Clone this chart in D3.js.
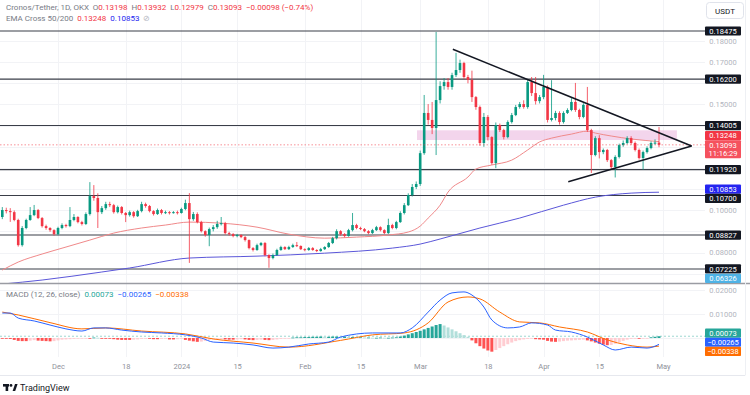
<!DOCTYPE html>
<html>
<head>
<meta charset="utf-8">
<script src="https://cdn.jsdelivr.net/npm/d3@7"></script>
<style>
  body { margin: 0; background: #fff; }
  svg { display: block; }
  text { font-family: Roboto, "Noto Sans", sans-serif; }
</style>
</head>
<body>
<div id="chart"></div>
<script>
// CRO/USDT daily candles, Nov 17 2023 -> Apr 30 2024 (one value per day)
var firstOpen = 0.0968;
var closes = [
  0.1001, 0.0996, 0.0991, 0.0954, 0.0835, 0.0916, 0.0954, 0.0977, 0.1001, 0.0963,
  0.0925, 0.0916, 0.0906, 0.0887, 0.0916, 0.0930, 0.0925, 0.0954, 0.0968, 0.0944,
  0.0935, 0.0982, 0.1067, 0.1058, 0.0991, 0.1010, 0.1029, 0.1024, 0.0991, 0.1015,
  0.0987, 0.0977, 0.0991, 0.0972, 0.0996, 0.1029, 0.1020, 0.0996, 0.0982, 0.1001,
  0.0987, 0.0991, 0.0987, 0.0991, 0.0987, 0.1006, 0.1034, 0.0958, 0.0982, 0.0944,
  0.0901, 0.0883, 0.0911, 0.0920, 0.0935, 0.0939, 0.0892, 0.0887, 0.0878, 0.0883,
  0.0873, 0.0859, 0.0821, 0.0812, 0.0835, 0.0845, 0.0788, 0.0774, 0.0788, 0.0812,
  0.0826, 0.0816, 0.0826, 0.0835, 0.0831, 0.0816, 0.0812, 0.0821, 0.0812, 0.0807,
  0.0816, 0.0826, 0.0845, 0.0868, 0.0901, 0.0887, 0.0878, 0.0906, 0.0930, 0.0916,
  0.0911, 0.0901, 0.0892, 0.0906, 0.0920, 0.0906, 0.0892, 0.0930, 0.0916, 0.0944,
  0.0987, 0.1024, 0.1072, 0.1110, 0.1124, 0.1270, 0.1460, 0.1427, 0.1389, 0.1521,
  0.1587, 0.1606, 0.1583, 0.1639, 0.1663, 0.1696, 0.1630, 0.1616, 0.1535, 0.1488,
  0.1318, 0.1441, 0.1346, 0.1223, 0.1403, 0.1379, 0.1346, 0.1417, 0.1450, 0.1488,
  0.1502, 0.1488, 0.1606, 0.1554, 0.1516, 0.1535, 0.1583, 0.1427, 0.1436, 0.1460,
  0.1417, 0.1460, 0.1474, 0.1512, 0.1474, 0.1441, 0.1498, 0.1379, 0.1261, 0.1341,
  0.1275, 0.1285, 0.1237, 0.1204, 0.1252, 0.1308, 0.1318, 0.1341, 0.1318, 0.1285,
  0.1247, 0.1275, 0.1294, 0.1318, 0.13198, 0.13093
];
var highs = [
  0.1015, 0.1012, 0.1010, 0.0999, 0.0960, 0.0925, 0.0960, 0.1015, 0.1025, 0.1006,
  0.0968, 0.0932, 0.0920, 0.0910, 0.0922, 0.0938, 0.0936, 0.1015, 0.0982, 0.0972,
  0.0950, 0.0990, 0.1133, 0.1119, 0.1080, 0.1020, 0.1040, 0.1040, 0.1030, 0.1022,
  0.1020, 0.0992, 0.0998, 0.0996, 0.1002, 0.1040, 0.1036, 0.1025, 0.1000, 0.1008,
  0.1006, 0.0998, 0.0996, 0.0996, 0.0998, 0.1012, 0.1050, 0.1081, 0.0992, 0.0990,
  0.0950, 0.0905, 0.0918, 0.0930, 0.0950, 0.0968, 0.0945, 0.0898, 0.0892, 0.0888,
  0.0886, 0.0878, 0.0862, 0.0826, 0.0842, 0.0850, 0.0850, 0.0792, 0.0795, 0.0818,
  0.0832, 0.0830, 0.0832, 0.0842, 0.0850, 0.0834, 0.0820, 0.0826, 0.0826, 0.0816,
  0.0822, 0.0830, 0.0850, 0.0874, 0.0910, 0.0906, 0.0892, 0.0912, 0.0987, 0.0936,
  0.0922, 0.0916, 0.0906, 0.0912, 0.0926, 0.0924, 0.0910, 0.0960, 0.0936, 0.0950,
  0.0995, 0.1034, 0.1080, 0.1124, 0.1136, 0.1282, 0.1545, 0.1502, 0.1512, 0.1843,
  0.1610, 0.1625, 0.1625, 0.1650, 0.1744, 0.1712, 0.1702, 0.1640, 0.1660, 0.1540,
  0.1495, 0.1460, 0.1450, 0.1350, 0.1415, 0.1410, 0.1385, 0.1425, 0.1460, 0.1498,
  0.1512, 0.1520, 0.1620, 0.1630, 0.1630, 0.1545, 0.1640, 0.1590, 0.1615, 0.1470,
  0.1468, 0.1468, 0.1482, 0.1530, 0.1602, 0.1480, 0.1506, 0.1583, 0.1385, 0.1350,
  0.1355, 0.1292, 0.1290, 0.1242, 0.1260, 0.1315, 0.1330, 0.1350, 0.1350, 0.1325,
  0.1292, 0.1282, 0.1302, 0.1326, 0.1335, 0.13932
];
var lows = [
  0.0958, 0.0985, 0.0945, 0.0948, 0.0828, 0.0828, 0.0910, 0.0950, 0.0972, 0.0958,
  0.0918, 0.0908, 0.0898, 0.0880, 0.0882, 0.0910, 0.0918, 0.0920, 0.0948, 0.0938,
  0.0928, 0.0930, 0.0975, 0.1045, 0.0916, 0.0982, 0.1002, 0.1015, 0.0984, 0.0985,
  0.0980, 0.0944, 0.0970, 0.0965, 0.0968, 0.0990, 0.1012, 0.0990, 0.0975, 0.0978,
  0.0980, 0.0982, 0.0980, 0.0984, 0.0980, 0.0984, 0.1000, 0.0751, 0.0950, 0.0938,
  0.0895, 0.0875, 0.0830, 0.0900, 0.0912, 0.0928, 0.0885, 0.0880, 0.0872, 0.0872,
  0.0868, 0.0852, 0.0815, 0.0805, 0.0808, 0.0830, 0.0782, 0.0728, 0.0768, 0.0784,
  0.0808, 0.0812, 0.0812, 0.0822, 0.0826, 0.0812, 0.0806, 0.0808, 0.0808, 0.0802,
  0.0804, 0.0812, 0.0822, 0.0840, 0.0862, 0.0880, 0.0872, 0.0875, 0.0900, 0.0910,
  0.0906, 0.0896, 0.0886, 0.0888, 0.0902, 0.0900, 0.0887, 0.0888, 0.0910, 0.0910,
  0.0940, 0.0980, 0.1020, 0.1065, 0.1100, 0.1115, 0.1262, 0.1405, 0.1360, 0.1261,
  0.1505, 0.1570, 0.1570, 0.1570, 0.1630, 0.1650, 0.1620, 0.1600, 0.1512, 0.1475,
  0.1305, 0.1300, 0.1330, 0.1215, 0.1199, 0.1370, 0.1335, 0.1340, 0.1410, 0.1445,
  0.1480, 0.1480, 0.1480, 0.1540, 0.1500, 0.1505, 0.1525, 0.1415, 0.1420, 0.1425,
  0.1405, 0.1410, 0.1455, 0.1468, 0.1465, 0.1430, 0.1435, 0.1370, 0.1176, 0.1255,
  0.1245, 0.1265, 0.1228, 0.1190, 0.1155, 0.1245, 0.1300, 0.1312, 0.1310, 0.1278,
  0.1240, 0.1192, 0.1268, 0.1288, 0.1310, 0.12979
];

// EMA cross 50/200, read at selected days (day index, value)
var ema50Days = [0, 4, 10, 16, 22, 28, 35, 41, 47, 55, 64, 72, 81, 89, 97, 102, 105, 107, 110, 112, 117, 119, 123, 128, 132, 135, 138, 143, 147, 149, 153, 158, 165];
var ema50Vals = [0.0717, 0.0755, 0.0793, 0.0826, 0.0859, 0.0892, 0.0916, 0.0930, 0.0944, 0.0939, 0.0920, 0.0887, 0.0868, 0.0873, 0.0883, 0.0897, 0.0925, 0.0963, 0.1024, 0.1086, 0.1157, 0.1195, 0.1214, 0.1237, 0.1285, 0.1323, 0.1341, 0.1360, 0.1374, 0.1365, 0.1351, 0.1337, 0.13248];
var ema200Days = [0, 10, 25, 32, 47, 64, 81, 98, 105, 110, 120, 130, 141, 149, 158, 165];
var ema200Vals = [0.0651, 0.0670, 0.0708, 0.0727, 0.0774, 0.0783, 0.0797, 0.0821, 0.0840, 0.0864, 0.0916, 0.0963, 0.1024, 0.1062, 0.1081, 0.10853];

// MACD (12, 26, close)
var macdDays = [0, 2, 4, 8, 12, 16, 20, 23, 26, 30, 35, 40, 46, 50, 53, 58, 63, 68, 72, 77, 82, 85, 93, 100, 103, 107, 110, 113, 116, 118, 121, 123, 127, 130, 133, 137, 139, 143, 147, 151, 154, 158, 162, 165];
var macdVals = [0.0104, 0.0104, 0.0083, 0.0071, 0.0054, 0.0038, 0.0029, 0.0042, 0.0042, 0.0033, 0.0025, 0.0021, 0.0013, 0, -0.0017, -0.0021, -0.0029, -0.0042, -0.0038, -0.0025, -0.0017, 0.0004, 0.0021, 0.0021, 0.0042, 0.0108, 0.0158, 0.0188, 0.0192, 0.0179, 0.0129, 0.0075, 0.0042, 0.0046, 0.0063, 0.0054, 0.0033, 0.0025, 0.0004, -0.0029, -0.0050, -0.0038, -0.0042, -0.00265];
var signalDays = [0, 4, 12, 20, 26, 35, 46, 53, 63, 72, 85, 93, 101, 107, 112, 117, 120, 125, 130, 135, 140, 147, 152, 157, 162, 165];
var signalVals = [0.0108, 0.0096, 0.0064, 0.0038, 0.0042, 0.0029, 0.0017, -0.0004, -0.0021, -0.0038, -0.0010, 0.0013, 0.0021, 0.0063, 0.0150, 0.0171, 0.0163, 0.0108, 0.0067, 0.0063, 0.0046, 0.0025, -0.0008, -0.0029, -0.0038, -0.00338];
var histVals = [
  -0.0002, -0.0003, -0.0004, -0.0008, -0.0012, -0.0013, -0.0013, -0.0011, -0.0009,
  -0.0011, -0.0012, -0.0013, -0.0014, -0.0013, -0.0010,
  -0.0007, -0.0006, -0.0005, -0.0004, -0.0003, -0.0002, -0.0001, -0.0001,
  0.0002, 0.0001, -0.0001, -0.0002, -0.0002,
  -0.0005, -0.0007, -0.0008, -0.0008, -0.0008, -0.0007, -0.0006,
  -0.0004, -0.0003, -0.0003, -0.0005, -0.0005, -0.0004, -0.0003,
  -0.0006, -0.0006, -0.0005, -0.0003,
  -0.0008, -0.0011, -0.0014, -0.0016, -0.0015, -0.0012,
  -0.0008, -0.0006, -0.0005, -0.0004, -0.0006, -0.0007, -0.0007, -0.0006,
  -0.0005, -0.0006, -0.0008, -0.0009, -0.0008, -0.0007, -0.0008, -0.0009, -0.0008,
  -0.0006, -0.0004, -0.0002, -0.0001,
  0.0002, 0.0003, 0.0003, 0.0004, 0.0004, 0.0005, 0.0005, 0.0006, 0.0005, 0.0005, 0.0006, 0.0006, 0.0005,
  0.0005, 0.0004, 0.0004, 0.0003, 0.0003,
  0.0002, 0.0002, 0.0001, 0.0001, 0.0002, 0.0001, 0.0001, 0.0002, 0.0003,
  0.0006, 0.0010, 0.0015, 0.0020, 0.0025, 0.0030,
  0.0036, 0.0042, 0.0048, 0.0054, 0.0058,
  0.0052, 0.0044, 0.0036, 0.0028, 0.0020, 0.0012, 0.0005,
  -0.0010, -0.0022, -0.0034, -0.0044, -0.0052, -0.0057,
  -0.0050, -0.0042, -0.0034, -0.0026, -0.0019, -0.0013, -0.0009, -0.0006, -0.0004,
  -0.0003, -0.0005, -0.0006, -0.0007,
  -0.0012, -0.0015, -0.0016, -0.0015, -0.0013,
  -0.0011, -0.0010, -0.0009, -0.0008, -0.0007,
  -0.0010, -0.0014, -0.0019, -0.0024, -0.0028, -0.0030, -0.0029,
  -0.0024, -0.0018, -0.0012, -0.0007, -0.0004,
  -0.0003, -0.0003, -0.0002, -0.0001,
  0.0003, 0.0005, 0.00073
];

// horizontal levels drawn on the chart
var levels = [0.18475, 0.16200, 0.14005, 0.11920, 0.10700, 0.08827, 0.07225];
var offLevel = 0.06326;
var zoneDays = [104.2, 169.5], zonePrices = [0.1332, 0.1378];
var triUpper = [[113.2, 0.1761], [173.2, 0.1304]];
var triLower = [[142.2, 0.1135], [173.2, 0.1304]];

// time axis ticks
var tickDates = [
  Date.UTC(2023, 11, 1), Date.UTC(2023, 11, 18), Date.UTC(2024, 0, 1), Date.UTC(2024, 0, 15),
  Date.UTC(2024, 1, 1), Date.UTC(2024, 1, 15), Date.UTC(2024, 2, 1), Date.UTC(2024, 2, 18),
  Date.UTC(2024, 3, 1), Date.UTC(2024, 3, 15), Date.UTC(2024, 4, 1)
];
var tickNames = ["Dec", "18", "2024", "15", "Feb", "15", "Mar", "18", "Apr", "15", "May"];
var priceTicks = [0.07, 0.08, 0.09, 0.10, 0.11, 0.12, 0.13, 0.14, 0.15, 0.16, 0.17, 0.18];
var macdTicks = [0, 0.01, 0.02];

var startDay = Date.UTC(2023, 10, 17);
function dayDate(i) { return new Date(startDay + i * 864e5); }

var width = 750, height = 395, plotRight = 705;
var paneBottom = 283, macdTop = 284, macdBottom = 357;

var x = d3.scaleUtc().domain([dayDate(0), dayDate(165)]).range([2.3, 2.3 + 165 * 3.98]);
var y = d3.scaleLinear().domain([0.0656, 0.19941]).range([paneBottom, 0]);
var ym = d3.scaleLinear().domain([-0.00792, 0.0225]).range([macdBottom, macdTop]);
function dx(i) { return x(dayDate(i)); }

var svg = d3.select("#chart").append("svg")
    .attr("width", width)
    .attr("height", height);

var defs = svg.append("defs");
defs.append("clipPath").attr("id", "clipPrice")
    .append("rect").attr("x", 0).attr("y", 0).attr("width", plotRight).attr("height", paneBottom);
defs.append("clipPath").attr("id", "clipMacd")
    .append("rect").attr("x", 0).attr("y", macdTop).attr("width", plotRight).attr("height", macdBottom - macdTop);
defs.append("clipPath").attr("id", "clipMacdAxis")
    .append("rect").attr("x", plotRight).attr("y", macdTop).attr("width", 45).attr("height", macdBottom - macdTop - 1);

// grid
var grid = svg.append("g").attr("stroke", "#f2f3f6").attr("stroke-width", 1);
grid.selectAll(".vg").data(tickDates).enter().append("line")
    .attr("x1", function(d) { return Math.round(x(new Date(d))) + 0.5; })
    .attr("x2", function(d) { return Math.round(x(new Date(d))) + 0.5; })
    .attr("y1", 0).attr("y2", macdBottom);
grid.selectAll(".hg").data(priceTicks).enter().append("line")
    .attr("x1", 0).attr("x2", plotRight)
    .attr("y1", function(d) { return Math.round(y(d)) + 0.5; })
    .attr("y2", function(d) { return Math.round(y(d)) + 0.5; });
grid.selectAll(".mg").data(macdTicks).enter().append("line")
    .attr("x1", 0).attr("x2", plotRight)
    .attr("y1", function(d) { return Math.round(ym(d)) + 0.5; })
    .attr("y2", function(d) { return Math.round(ym(d)) + 0.5; });

// price pane
var pane = svg.append("g").attr("clip-path", "url(#clipPrice)");

pane.append("rect")
    .attr("x", dx(zoneDays[0]))
    .attr("width", dx(zoneDays[1]) - dx(zoneDays[0]))
    .attr("y", y(zonePrices[1]))
    .attr("height", y(zonePrices[0]) - y(zonePrices[1]))
    .attr("fill", "#e9b3dd")
    .attr("opacity", 0.55);

pane.selectAll(".lvl").data(levels).enter().append("line")
    .attr("x1", 0).attr("x2", plotRight)
    .attr("y1", function(d) { return y(d); })
    .attr("y2", function(d) { return y(d); })
    .attr("stroke", "#3a3e48").attr("stroke-width", 1.1);

var lineGen = function(sc) {
    return d3.line()
        .x(function(d) { return dx(d[0]); })
        .y(function(d) { return sc(d[1]); })
        .curve(d3.curveMonotoneX);
};
var zip = function(a, b) { return a.map(function(d, i) { return [d, b[i]]; }); };

pane.append("path").datum(zip(ema200Days, ema200Vals))
    .attr("d", lineGen(y)).attr("fill", "none")
    .attr("stroke", "#5b57d9").attr("stroke-width", 1);
pane.append("path").datum(zip(ema50Days, ema50Vals))
    .attr("d", lineGen(y)).attr("fill", "none")
    .attr("stroke", "#f0898a").attr("stroke-width", 1);

var candles = closes.map(function(c, i) {
    return { i: i, o: i ? closes[i - 1] : firstOpen, h: highs[i], l: lows[i], c: c };
});
var up = "#089981", down = "#f23645", bw = 2.6;

var cg = pane.append("g");
cg.selectAll(".wick").data(candles).enter().append("line")
    .attr("x1", function(d) { return dx(d.i); })
    .attr("x2", function(d) { return dx(d.i); })
    .attr("y1", function(d) { return y(d.h); })
    .attr("y2", function(d) { return y(d.l); })
    .attr("stroke", function(d) { return d.c >= d.o ? up : down; })
    .attr("stroke-width", 0.8);
cg.selectAll(".body").data(candles).enter().append("rect")
    .attr("x", function(d) { return dx(d.i) - bw / 2; })
    .attr("width", bw)
    .attr("y", function(d) { return y(Math.max(d.o, d.c)); })
    .attr("height", function(d) { return Math.max(1, Math.abs(y(d.o) - y(d.c))); })
    .attr("fill", function(d) { return d.c >= d.o ? up : down; });

// last price line
var lastClose = closes[closes.length - 1];
pane.append("line")
    .attr("x1", 0).attr("x2", plotRight)
    .attr("y1", y(lastClose)).attr("y2", y(lastClose))
    .attr("stroke", "#f23645").attr("stroke-opacity", 0.55)
    .attr("stroke-dasharray", "1.5,2");

// triangle drawing
[triUpper, triLower].forEach(function(t) {
    pane.append("line")
        .attr("x1", dx(t[0][0])).attr("y1", y(t[0][1]))
        .attr("x2", dx(t[1][0])).attr("y2", y(t[1][1]))
        .attr("stroke", "#131722").attr("stroke-width", 1.5);
});

// pane separator
svg.append("line").attr("x1", 0).attr("x2", width)
    .attr("y1", paneBottom + 0.5).attr("y2", paneBottom + 0.5)
    .attr("stroke", "#9a9ca3").attr("stroke-width", 1.5);

// MACD pane
var mp = svg.append("g").attr("clip-path", "url(#clipMacd)");
var lastHist = histVals[histVals.length - 1];
mp.append("line")
    .attr("x1", 0).attr("x2", plotRight)
    .attr("y1", ym(lastHist)).attr("y2", ym(lastHist))
    .attr("stroke", "#26a69a").attr("stroke-opacity", 0.45)
    .attr("stroke-dasharray", "2,2");
mp.selectAll(".hist").data(histVals).enter().append("rect")
    .attr("x", function(d, i) { return dx(i) - 1.5; })
    .attr("width", 3)
    .attr("y", function(d) { return Math.min(ym(d), ym(0)); })
    .attr("height", function(d) { return Math.max(0.8, Math.abs(ym(d) - ym(0))); })
    .attr("fill", function(d, i) {
        var prev = i ? histVals[i - 1] : d;
        if (d >= 0) return d >= prev ? "#26a69a" : "#b2dfdb";
        return d <= prev ? "#ff5252" : "#ffcdd2";
    });
mp.append("path").datum(zip(signalDays, signalVals))
    .attr("d", lineGen(ym)).attr("fill", "none")
    .attr("stroke", "#ff6d00").attr("stroke-width", 1);
mp.append("path").datum(zip(macdDays, macdVals))
    .attr("d", lineGen(ym)).attr("fill", "none")
    .attr("stroke", "#2962ff").attr("stroke-width", 1);

// value labels on the axis, pushed apart where they overlap
function resolve(list, top, bottom) {
    list.sort(function(a, b) { return a.y - b.y; });
    for (var k = 0; k < 40; k++) {
        for (var j = 1; j < list.length; j++) {
            var a = list[j - 1], b = list[j];
            var gap = (b.y - b.up) - (a.y + a.down);
            if (gap < 0) {
                if (a.fixed) b.y -= gap;
                else if (b.fixed) a.y += gap;
                else { a.y += gap / 2; b.y -= gap / 2; }
            }
        }
        list.forEach(function(d) {
            if (d.y + d.down > bottom) d.y = bottom - d.down;
            if (d.y - d.up < top) d.y = top + d.up;
        });
    }
    return list;
}
var fmt5 = function(v) { return v.toFixed(5).replace("-", "\u2212"); };
var priceLabels = levels.map(function(v) { return { v: v, bg: "#131722" }; });
priceLabels.push({ v: ema50Vals[ema50Vals.length - 1], bg: "#f23645" });
priceLabels.push({ v: ema200Vals[ema200Vals.length - 1], bg: "#2424f0" });
priceLabels.push({ v: offLevel, bg: "#4fb3e6" });
priceLabels.push({ v: lastClose, bg: "#f5525e", fixed: true, extra: "11:16:29" });
priceLabels.forEach(function(d) { d.y = y(d.v); d.up = 4.6; d.down = d.extra ? 13.4 : 4.6; });
resolve(priceLabels, 0, paneBottom);

var macdLabels = [
    { v: lastHist, bg: "#26a69a" },
    { v: macdVals[macdVals.length - 1], bg: "#2962ff" },
    { v: signalVals[signalVals.length - 1], bg: "#ff6d00" }
];
macdLabels.forEach(function(d) { d.y = ym(d.v); d.up = 4.6; d.down = 4.6; });
resolve(macdLabels, macdTop, 400);

// right axis ticks, hidden where a value label sits on top of them
var axisX = 723;
function freeTicks(ticks, sc, list) {
    return ticks.filter(function(t) {
        var ty = sc(t);
        return !list.some(function(d) { return ty + 4 > d.y - d.up - 1 && ty - 4 < d.y + d.down + 1; });
    });
}
function styleAxis(g) {
    g.select(".domain").remove();
    g.selectAll("text").attr("x", 0).attr("text-anchor", "middle")
        .attr("fill", "#b2b5be").style("font-size", "7.5px").style("font-family", "Roboto, sans-serif");
}
svg.append("g")
    .attr("transform", "translate(" + axisX + ",0)")
    .call(d3.axisRight(y).tickValues(freeTicks(priceTicks, y, priceLabels)).tickFormat(d3.format(".5f")).tickSize(0))
    .call(styleAxis);
svg.append("g")
    .attr("transform", "translate(" + axisX + ",0)")
    .call(d3.axisRight(ym).tickValues(freeTicks(macdTicks, ym, macdLabels)).tickFormat(d3.format(".5f")).tickSize(0))
    .call(styleAxis);

function drawLabels(g, list) {
    var lg = g.selectAll(".lab").data(list).enter().append("g");
    lg.append("rect")
        .attr("x", plotRight)
        .attr("y", function(d) { return d.y - d.up; })
        .attr("width", 36)
        .attr("height", function(d) { return d.up + d.down; })
        .attr("rx", 1)
        .attr("fill", function(d) { return d.bg; });
    lg.append("text")
        .attr("x", axisX).attr("y", function(d) { return d.y + 2.7; })
        .attr("text-anchor", "middle")
        .attr("fill", "#fff").style("font-size", "7.5px")
        .text(function(d) { return fmt5(d.v); });
    lg.filter(function(d) { return d.extra; }).append("text")
        .attr("x", axisX).attr("y", function(d) { return d.y + 11.2; })
        .attr("text-anchor", "middle")
        .attr("fill", "#fff").style("font-size", "7.5px")
        .text(function(d) { return d.extra; });
}
drawLabels(svg.append("g"), priceLabels);
drawLabels(svg.append("g").attr("clip-path", "url(#clipMacdAxis)"), macdLabels);

// time axis
svg.append("g")
    .attr("transform", "translate(0," + 362 + ")")
    .call(d3.axisBottom(x).tickValues(tickDates.map(function(d) { return new Date(d); }))
        .tickFormat(function(d, i) { return tickNames[i]; }).tickSize(0))
    .call(function(g) {
        g.select(".domain").remove();
        g.selectAll("text").attr("y", 2).attr("fill", "#8f929b")
            .style("font-size", "7.5px").style("font-family", "Roboto, sans-serif");
    });
svg.append("line").attr("x1", 0).attr("x2", 745).attr("y1", 375.5).attr("y2", 375.5)
    .attr("stroke", "#e6e8ee");
svg.append("line").attr("x1", 745.5).attr("x2", 745.5).attr("y1", 0).attr("y2", 375.5)
    .attr("stroke", "#eef0f4");

// legends
var gray = "#787b86", red = "#f23645";
function legend(yPos, parts) {
    var t = svg.append("text").attr("x", 6).attr("y", yPos).style("font-size", "8px");
    parts.forEach(function(p) {
        t.append("tspan").attr("dx", p[2] || 0).attr("fill", p[1]).text(p[0]);
    });
}
legend(10, [
    ["Cronos/Tether, 1D, OKX", gray],
    ["O", gray, 4], ["0.13198", red],
    ["H", gray, 4], ["0.13932", red],
    ["L", gray, 4], ["0.12979", red],
    ["C", gray, 4], ["0.13093", red],
    ["\u22120.00098 (\u22120.74%)", red, 4]
]);
legend(21, [
    ["EMA Cross 50/200", gray],
    [fmt5(ema50Vals[ema50Vals.length - 1]), red, 4],
    [fmt5(ema200Vals[ema200Vals.length - 1]), "#2424f0", 4],
    ["\u2298", "#b2b5be", 4]
]);
legend(297, [
    ["MACD (12, 26, close)", gray],
    [fmt5(lastHist), "#26a69a", 4],
    [fmt5(macdVals[macdVals.length - 1]), "#2962ff", 4],
    [fmt5(signalVals[signalVals.length - 1]), "#ff6d00", 4]
]);

// currency button
svg.append("rect").attr("x", 706.5).attr("y", 2.5).attr("width", 37).attr("height", 16).attr("rx", 3)
    .attr("fill", "#fff").attr("stroke", "#e0e3eb");
svg.append("text").attr("x", 725).attr("y", 13.5).attr("text-anchor", "middle")
    .attr("fill", "#131722").style("font-size", "8px").text("USDT");

// TradingView mark
var logo = svg.append("g").attr("fill", "#131722");
logo.append("rect").attr("x", 3).attr("y", 384).attr("width", 6).attr("height", 2.6);
logo.append("rect").attr("x", 5.6).attr("y", 384).attr("width", 2.6).attr("height", 7);
logo.append("circle").attr("cx", 11).attr("cy", 385.4).attr("r", 1.4);
logo.append("path").attr("d", "M12.6,391 L15,384 L17.6,384 L15.2,391 Z");
svg.append("text").attr("x", 20).attr("y", 391).attr("fill", "#131722")
    .style("font-size", "9px").text("TradingView");
</script>
</body>
</html>
